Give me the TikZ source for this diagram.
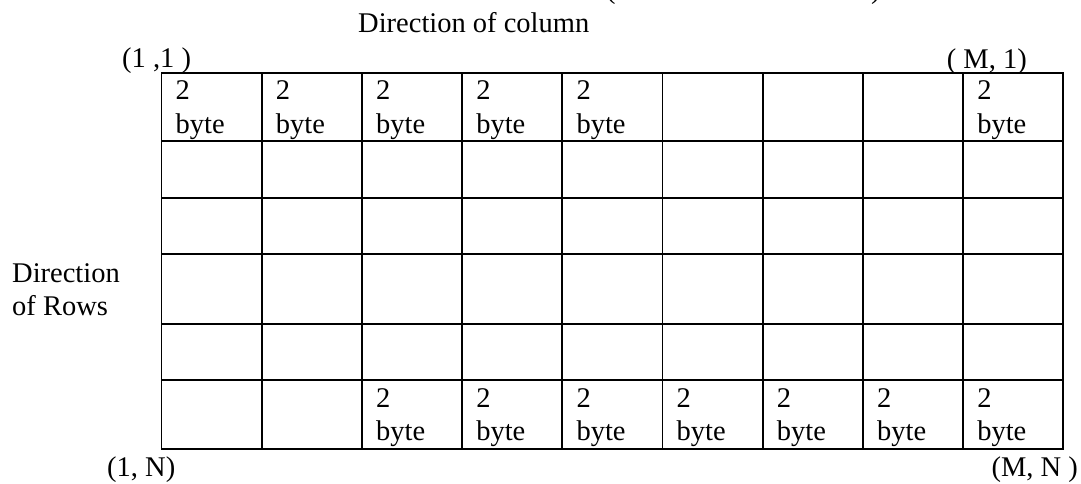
\documentclass[tikz,border=0pt]{standalone}
\usepackage{fontspec}
\setmainfont{Liberation Serif}
\begin{document}
\begin{tikzpicture}[x=1pt,y=-1pt,
  lbl/.style={anchor=base west,inner sep=0pt,font=\fontsize{28.5}{33}\selectfont},
  lble/.style={anchor=base east,inner sep=0pt,font=\fontsize{28.5}{33}\selectfont},
  gridline/.style={line width=1.7pt,line cap=rect}]
\useasboundingbox (0,0) rectangle (1081,484);
\clip (0,0) rectangle (1081,484);
% cut-off fragments at the top edge
\node[lbl] (topl) at (606,-1) {(};
\node[lbl] (topr) at (871,-1) {)};
% labels
\node[lbl] (dircol) at (358,33) {Direction of column};
\node[lbl] (c11) at (122,68) {(1 ,1 )};
\node[lble] (cm1) at (1027,69) {( M, 1)};
\node[lbl] (c1n) at (107,476) {(1, N)};
\node[lble] (cmn) at (1078,476) {(M, N )};
\node[lbl] (dirrow1) at (12,282) {Direction};
\node[lbl] (dirrow2) at (12,315) {of Rows};
% grid
\def\xl{161.5}\def\cw{100.2}
\foreach \i in {0,...,9}{
  \draw[gridline] ({\xl+\cw*\i},73) -- ({\xl+\cw*\i},449);
}
\foreach \yy in {73,141,198,254,324,380,449}{
  \draw[gridline] (\xl,\yy) -- ({\xl+9*\cw},\yy);
}
% cell texts
\foreach \i in {0,1,2,3,4,8}{
  \node[lbl] (t2-\i) at ({\xl+\cw*\i+14},100) {2};
  \node[lbl] (tb-\i) at ({\xl+\cw*\i+14},133) {byte};
}
\foreach \i in {2,...,8}{
  \node[lbl] (b2-\i) at ({\xl+\cw*\i+14},407) {2};
  \node[lbl] (bb-\i) at ({\xl+\cw*\i+14},440) {byte};
}
\end{tikzpicture}
\end{document}
